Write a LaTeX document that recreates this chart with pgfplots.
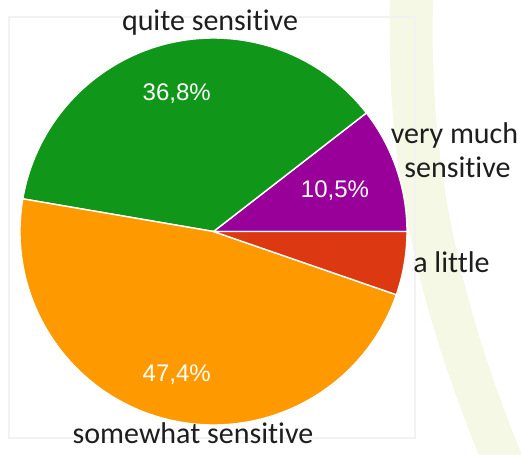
\documentclass[border=0pt]{standalone}
\usepackage{pgfplots}
\pgfplotsset{compat=1.18}
\usepackage{pgfplotstable}
\usepackage{fontspec}
\setmainfont{Carlito}[Ligatures={NoCommon}]
\newfontfamily\pctfont{Liberation Sans}
\definecolor{cpurple}{HTML}{990099}
\definecolor{cgreen}{HTML}{109618}
\definecolor{corange}{HTML}{FF9900}
\definecolor{cred}{HTML}{DC3912}
\definecolor{bandcol}{RGB}{245,248,228}
\definecolor{labtxt}{HTML}{1E1E1E}

\pgfplotstableread{
label value
verymuch 10.5
quite 36.8
somewhat 47.4
alittle 5.3
}\piedata

\begin{document}
\begin{tikzpicture}
% cumulative angles from the data
\pgfplotstablegetelem{0}{value}\of\piedata \pgfmathsetmacro\aA{\pgfplotsretval*3.6}
\pgfplotstablegetelem{1}{value}\of\piedata \pgfmathsetmacro\aB{\aA+\pgfplotsretval*3.6}
\pgfplotstablegetelem{2}{value}\of\piedata \pgfmathsetmacro\aC{\aB+\pgfplotsretval*3.6}
\pgfplotstablegetelem{3}{value}\of\piedata \pgfmathsetmacro\aD{\aC+\pgfplotsretval*3.6}
\def\R{96.75pt}
\begin{axis}[
  x=0.5pt, y=0.5pt, y dir=reverse,
  xmin=0, xmax=521, ymin=0, ymax=455,
  hide axis, scale only axis,
]
\fill[white] (0,0) rectangle (521,455);
% background band
\fill[bandcol] (390,0) .. controls (386,150) and (410,290) .. (485,470)
  -- (528,470) .. controls (453,290) and (429,150) .. (433,0) -- cycle;
% frame
\draw[black!5, line width=0.9pt] (9,17) rectangle (415,438);
% slices
\fill[cpurple, draw=white, line width=0.7pt] (213.5,231.5) -- ++(0:\R) arc[start angle=0, end angle=\aA, radius=\R] -- cycle;
\fill[cgreen, draw=white, line width=0.7pt] (213.5,231.5) -- ++(\aA:\R) arc[start angle=\aA, end angle=\aB, radius=\R] -- cycle;
\fill[corange, draw=white, line width=0.7pt] (213.5,231.5) -- ++(\aB:\R) arc[start angle=\aB, end angle=\aC, radius=\R] -- cycle;
\fill[cred, draw=white, line width=0.7pt] (213.5,231.5) -- ++(\aC:\R) arc[start angle=\aC, end angle=\aD, radius=\R] -- cycle;
% percentages
\node[anchor=base, text=white, font=\pctfont\fontsize{12pt}{14pt}\selectfont, inner sep=0pt] at (176.7,100.7) {36,8\%};
\node[anchor=base, text=white, font=\pctfont\fontsize{12pt}{14pt}\selectfont, inner sep=0pt] at (335,197.5) {10,5\%};
\node[anchor=base, text=white, font=\pctfont\fontsize{12pt}{14pt}\selectfont, inner sep=0pt] at (176.7,381.7) {47,4\%};
% category labels
\node[anchor=base, text=labtxt, font=\fontsize{15pt}{17pt}\selectfont, inner sep=0pt] at (210,31) {quite sensitive};
\node[anchor=base, text=labtxt, font=\fontsize{15pt}{17pt}\selectfont, inner sep=0pt] at (454.5,143) {very much};
\node[anchor=base, text=labtxt, font=\fontsize{15pt}{17pt}\selectfont, inner sep=0pt] at (457.5,177) {sensitive};
\node[anchor=base, text=labtxt, font=\fontsize{15pt}{17pt}\selectfont, inner sep=0pt] at (451.5,272) {a little};
\node[anchor=base, text=labtxt, font=\fontsize{15pt}{17pt}\selectfont, inner sep=0pt] at (193,444) {somewhat sensitive};
\end{axis}
\end{tikzpicture}
\end{document}
